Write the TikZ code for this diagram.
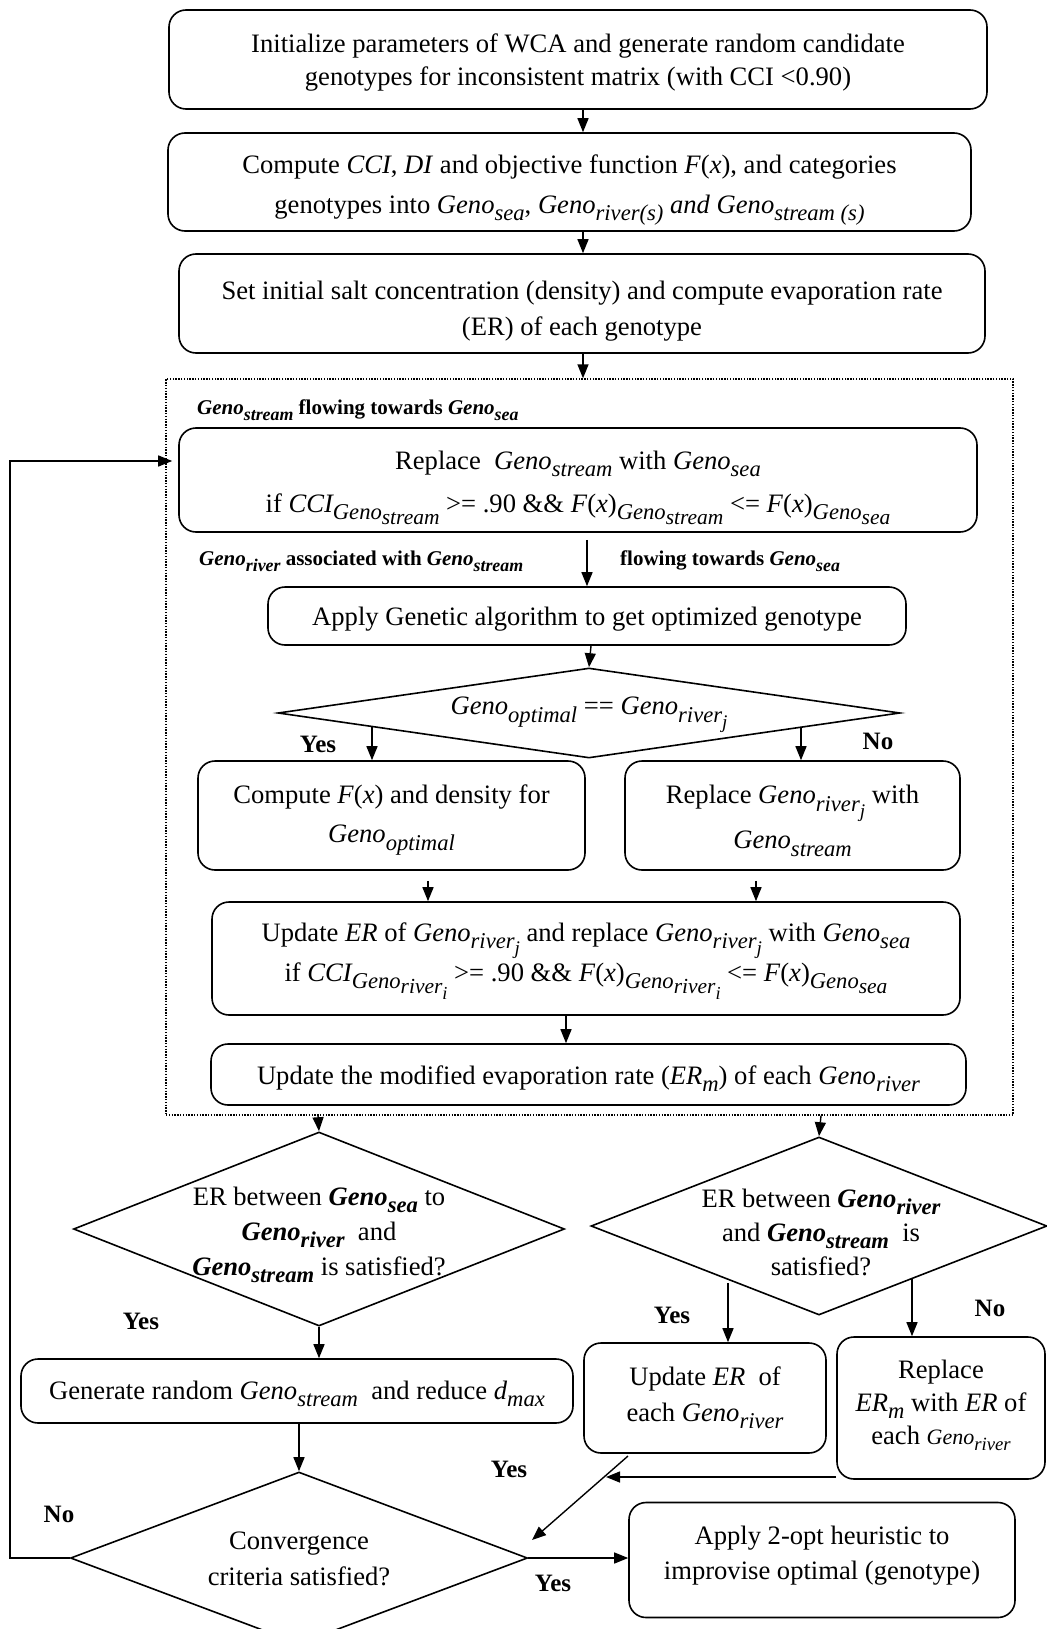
\documentclass[tikz,border=0pt]{standalone}
\usepackage{graphicx}
\usepackage{fontspec}
\setmainfont{Liberation Serif}
\usetikzlibrary{arrows.meta,shapes.geometric}

% subscripts (first level and nested) and the recurring "Geno" symbols
\newcommand{\sbs}[1]{\raisebox{-0.28em}{\scalebox{0.85}{#1}}}
\newcommand{\ssb}[1]{\raisebox{-0.22em}{\scalebox{0.95}{#1}}}
\newcommand{\G}[1]{\textit{Geno\sbs{#1}}}
\newcommand{\BG}[1]{\textbf{\textit{Geno\sbs{#1}}}}

\tikzset{
  x=1pt, y=-1pt,
  box/.style={draw, line width=1.6pt, rounded corners=17pt, inner sep=0pt},
  dia/.style={draw, diamond, line width=1.6pt, inner sep=0pt},
  grp/.style={draw, line width=1.4pt, dash pattern=on 1.4pt off 1.4pt, inner sep=0pt},
  txt/.style={align=center, inner sep=0pt, yshift=-3pt, font=\fontsize{26.6}{33}\selectfont},
  arr/.style={-{Triangle[length=14pt,width=11pt]}, line width=1.4pt},
  lbl/.style={inner sep=0pt, font=\bfseries\fontsize{25}{30}\selectfont},
  note/.style={inner sep=0pt, anchor=west, font=\bfseries\fontsize{21}{26}\selectfont},
}

\begin{document}
\begin{tikzpicture}
\fill[white] (0,0) rectangle (1046,1629);
\useasboundingbox (0,0) rectangle (1046,1629);

% ---- initial steps
\node[box, minimum width=818pt, minimum height=99pt] (b1) at (578,59.5) {};
\node[txt] (t1) at (b1) {Initialize parameters of WCA and generate random candidate\\
  genotypes for inconsistent matrix (with CCI <0.90)};

\node[box, minimum width=803pt, minimum height=98pt] (b2) at (569.5,182) {};
\node[txt, font=\fontsize{26.6}{40}\selectfont] (t2) at (569.5,187) {Compute \textit{CCI}, \textit{DI} and objective function \textit{F}(\textit{x}), and categories\\
  genotypes into \G{sea}, \G{river(s)} \textit{and} \G{stream (s)}};

\node[box, minimum width=806pt, minimum height=99pt] (b3) at (582,303.5) {};
\node[txt, font=\fontsize{26.6}{36}\selectfont] (t3) at (582,308) {Set initial salt concentration (density) and compute evaporation rate\\
  (ER) of each genotype};

% ---- inner loop group
\node[grp, minimum width=847pt, minimum height=736pt] (grp) at (589.5,747) {};
\node[note] (n1) at (197,410) {\BG{stream} flowing towards \BG{sea}};

\node[box, minimum width=798pt, minimum height=104pt] (b4) at (578,480) {};
\node[txt, font=\fontsize{26.6}{43}\selectfont] (t4) at (578,485) {Replace \ \G{stream} with \G{sea}\\
  if \textit{CCI\sbs{Geno\ssb{stream}}} >= .90 \&\& \textit{F}(\textit{x})\textit{\sbs{Geno\ssb{stream}}} <= \textit{F}(\textit{x})\textit{\sbs{Geno\ssb{sea}}}};

\node[note] (n2) at (199,561) {\BG{river} associated with \BG{stream}};
\node[note] (n3) at (620,561) {flowing towards \BG{sea}};

\node[box, minimum width=638pt, minimum height=58pt] (b5) at (587,616) {};
\node[txt] (t5) at (b5) {Apply Genetic algorithm to get optimized genotype};

\node[dia, minimum width=622pt, minimum height=90pt] (d1) at (589,713) {};
\node[txt] (dt1) at (589,712) {\G{optimal} == \G{river\sbs{j}}};

\node[box, minimum width=387pt, minimum height=109pt] (b6) at (391.5,815.5) {};
\node[txt, font=\fontsize{26.6}{39}\selectfont] (t6) at (391.5,817) {Compute \textit{F}(\textit{x}) and density for\\ \G{optimal}};

\node[box, minimum width=335pt, minimum height=109pt] (b7) at (792.5,815.5) {};
\node[txt, font=\fontsize{26.6}{45}\selectfont] (t7) at (792.5,818) {Replace \G{river\sbs{j}} with\\ \G{stream}};

\node[box, minimum width=748pt, minimum height=113pt] (b8) at (586,958.5) {};
\node[txt, font=\fontsize{26.6}{40}\selectfont] (t8) at (586,958) {Update \textit{ER} of \G{river\sbs{j}} and replace \G{river\sbs{j}} with \G{sea}\\
  if \textit{CCI\sbs{Geno\ssb{river\sbs{i}}}} >= .90 \&\& \textit{F}(\textit{x})\textit{\sbs{Geno\ssb{river\sbs{i}}}} <= \textit{F}(\textit{x})\textit{\sbs{Geno\ssb{sea}}}};

\node[box, minimum width=755pt, minimum height=61pt] (b9) at (588.5,1074.5) {};
\node[txt] (t9) at (588.5,1075.5) {Update the modified evaporation rate (\textit{ER\sbs{m}}) of each \G{river}};

% ---- outer decisions
\node[dia, minimum width=491pt, minimum height=194pt] (d2) at (319,1229) {};
\node[txt, font=\fontsize{26.6}{35}\selectfont] (dt2) at (319,1232) {ER between \BG{sea} to\\ \BG{river} \ and\\ \BG{stream} is satisfied?};

\node[dia, minimum width=456pt, minimum height=178pt] (d3) at (819,1226) {};
\node[txt, font=\fontsize{26.6}{34}\selectfont] (dt3) at (821,1229) {ER between \BG{river}\\ and \BG{stream} \ is\\ satisfied?};

\node[box, minimum width=552pt, minimum height=64pt] (b10) at (297,1391) {};
\node[txt] (t10) at (b10) {Generate random \G{stream} \ and reduce \textit{d\sbs{max}}};

\node[box, minimum width=242pt, minimum height=110pt] (b11) at (705,1398) {};
\node[txt, font=\fontsize{26.6}{36}\selectfont] (t11) at (705,1395) {Update \textit{ER} \ of\\ each \G{river}};

\node[box, minimum width=208pt, minimum height=142pt] (b12) at (941,1408) {};
\node[txt, font=\fontsize{26.6}{33}\selectfont] (t12) at (941,1402) {Replace\\ \textit{ER\sbs{m}} with \textit{ER} of\\ each {\fontsize{22}{33}\selectfont\G{river}}};

\node[dia, minimum width=457pt, minimum height=172pt] (d4) at (299,1558) {};
\node[txt, font=\fontsize{26.6}{36}\selectfont] (dt4) at (299,1556) {Convergence\\ criteria satisfied?};

\node[box, minimum width=386pt, minimum height=115pt] (b13) at (822,1560) {};
\node[txt, font=\fontsize{26.6}{35}\selectfont] (t13) at (822,1553) {Apply 2-opt heuristic to\\ improvise optimal (genotype)};

% ---- branch labels
\node[lbl] (y1) at (318,744) {Yes};
\node[lbl] (no1) at (878,741) {No};
\node[lbl] (y2) at (141,1321) {Yes};
\node[lbl] (y3) at (672,1315) {Yes};
\node[lbl] (no3) at (990,1308) {No};
\node[lbl] (y4) at (509,1469) {Yes};
\node[lbl] (y5) at (553,1583) {Yes};
\node[lbl] (no5) at (59,1514) {No};

% ---- guide coordinates for the connectors
\coordinate (ax) at (583,0);
\coordinate (bx) at (587,0);
\coordinate (cx) at (591,0);
\coordinate (ys) at (372,727);
\coordinate (ns) at (801,727);
\coordinate (lx) at (428,0);
\coordinate (rx) at (756,0);
\coordinate (mx) at (566,0);
\coordinate (px) at (318,0);
\coordinate (qx) at (821,0);
\coordinate (ye) at (728,1283);
\coordinate (ne) at (912,1279);
\coordinate (dg0) at (628,1456);
\coordinate (dg1) at (532,1540);
\coordinate (hz) at (606,1477);
\coordinate (lp) at (10,461);

% ---- connectors
\draw[arr] (b1.south -| ax) -- (b2.north -| ax);
\draw[arr] (b2.south -| ax) -- (b3.north -| ax);
\draw[arr] (b3.south -| ax) -- (grp.north -| ax);
\draw[arr, shorten <=7pt] (b4.south -| bx) -- (b5.north -| bx);
\draw[arr] (b5.south -| cx) -- (d1.north);
\draw[arr] (ys) -- (ys |- b6.north);
\draw[arr] (ns) -- (ns |- b7.north);
\draw[arr, shorten <=10pt] (b6.south -| lx) -- (b8.north -| lx);
\draw[arr, shorten <=10pt] (b7.south -| rx) -- (b8.north -| rx);
\draw[arr] (b8.south -| mx) -- (b9.north -| mx);
\draw[arr] (grp.south -| px) -- (d2.north);
\draw[arr] (grp.south -| qx) -- (d3.north);
\draw[arr] (d2.south) -- (b10.north -| d2.south);
\draw[arr] (ye) -- (ye |- b11.north);
\draw[arr] (ne) -- (ne |- b12.north);
\draw[arr] (b10.south -| d4.north) -- (d4.north);
\draw[arr] (dg0) -- (dg1);
\draw[arr] (b12.west |- hz) -- (hz);
\draw[arr] (d4.east) -- (b13.west |- d4.east);
\draw[arr] (d4.west) -- (d4.west -| lp) -- (lp) -- ([xshift=-6pt]b4.west |- lp);
\end{tikzpicture}
\end{document}
